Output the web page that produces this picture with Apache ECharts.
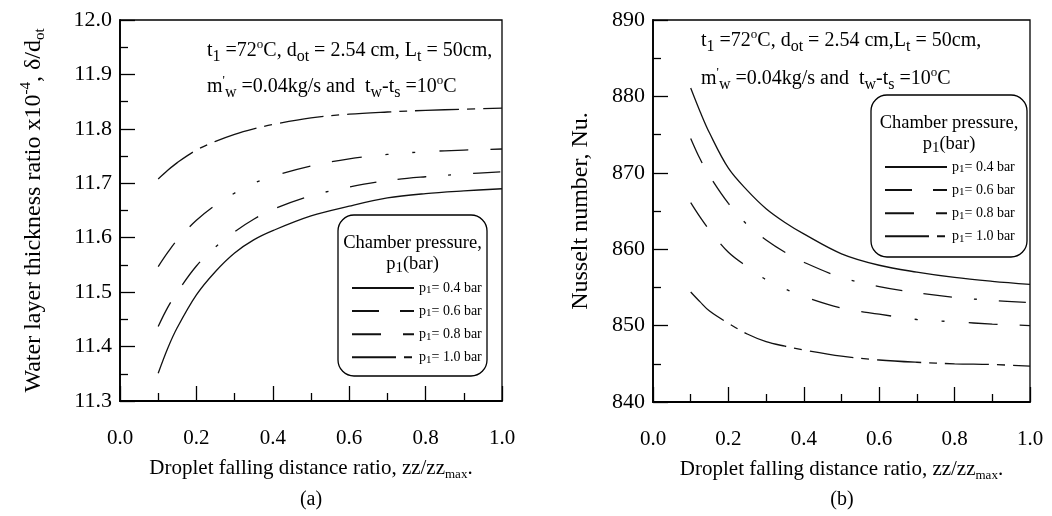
<!DOCTYPE html>
<html>
<head>
<meta charset="utf-8">
<script src="https://cdn.jsdelivr.net/npm/echarts@6/dist/echarts.min.js"></script>
<style>html,body{margin:0;padding:0;background:#fff}#c{width:1052px;height:516px}</style>
</head>
<body>
<div id="c"></div>
<script>
// ---- data ----
const zRatio = [0.1, 0.125, 0.15, 0.2, 0.25, 0.3, 0.35, 0.4, 0.5, 0.6, 0.7, 0.8, 0.9, 1.0];
const pressures = ['0.4', '0.6', '0.8', '1.0'];
// (a) water layer thickness ratio x1e-4
const delta04 = [11.351, 11.397, 11.435, 11.495, 11.538, 11.572, 11.596, 11.613, 11.640, 11.658, 11.673, 11.681, 11.686, 11.690];
const delta06 = [11.437, 11.472, 11.500, 11.548, 11.583, 11.611, 11.634, 11.652, 11.677, 11.693, 11.705, 11.712, 11.717, 11.721];
const delta08 = [11.547, 11.573, 11.596, 11.632, 11.660, 11.682, 11.700, 11.713, 11.732, 11.745, 11.753, 11.758, 11.761, 11.763];
const delta10 = [11.708, 11.724, 11.738, 11.761, 11.777, 11.790, 11.800, 11.808, 11.820, 11.827, 11.831, 11.834, 11.836, 11.838];
// (b) Nusselt number
const nu04 = [881.1, 878.0, 875.2, 870.6, 867.7, 865.3, 863.5, 862.0, 859.4, 857.9, 857.0, 856.3, 855.8, 855.4];
const nu06 = [874.5, 871.8, 869.6, 866.0, 863.2, 861.2, 859.6, 858.3, 856.3, 855.1, 854.3, 853.7, 853.3, 853.0];
const nu08 = [866.1, 864.2, 862.5, 859.6, 857.7, 856.0, 854.8, 853.8, 852.3, 851.5, 850.8, 850.5, 850.2, 850.0];
const nu10 = [854.4, 853.1, 851.9, 850.3, 848.9, 847.9, 847.3, 846.8, 846.0, 845.5, 845.2, 845.0, 844.9, 844.7];

const FF = '"Liberation Serif", "Times New Roman", serif';
const INK = '#111';
const dashes = ['solid', [27, 21, 29, 22, 3, 22], [29, 22, 30, 24, 3, 24, 3, 24], [44, 8, 8, 8]];
const deltaSets = [delta04, delta06, delta08, delta10];
const nuSets = [nu04, nu06, nu08, nu10];

function mkSeries(sets, gi) {
  return sets.map((arr, k) => ({
    name: pressures[k], type: 'line', xAxisIndex: gi, yAxisIndex: gi,
    data: zRatio.map((x, i) => [x, arr[i]]),
    symbol: 'none', smooth: 0.35, silent: true, z: 2,
    lineStyle: { color: INK, width: 1.3, type: dashes[k] },
    itemStyle: { color: INK }
  }));
}

const subRich = {
  n: { fontFamily: FF, fontSize: 20, color: '#000' },
  sb: { fontFamily: FF, fontSize: 16, color: '#000', padding: [12, 0, 0, 0] },
  sp: { fontFamily: FF, fontSize: 13, color: '#000', padding: [0, 0, 13, 0] }
};
const line1a = '{n|t}{sb|1}{n| =72}{sp|o}{n|C, d}{sb|ot}{n| = 2.54 cm, L}{sb|t}{n| = 50cm,}';
const line1b = '{n|t}{sb|1}{n| =72}{sp|o}{n|C, d}{sb|ot}{n| = 2.54 cm,L}{sb|t}{n| = 50cm,}';
const line2 = "{n|m}{sp|'}{sb|w}{n| =0.04kg/s and  t}{sb|w}{n|-t}{sb|s}{n| =10}{sp|o}{n|C}";

function xAx(gi) {
  return {
    type: 'value', gridIndex: gi, min: 0, max: 1, interval: 0.2,
    axisLine: { lineStyle: { color: '#000', width: 1.8 } },
    axisTick: { inside: true, length: 15, lineStyle: { color: '#000', width: 1.3 } },
    minorTick: { show: true, splitNumber: 2, length: 8, lineStyle: { color: '#000', width: 1.3 } },
    splitLine: { show: false },
    axisLabel: { margin: 27, fontFamily: FF, fontSize: 21, color: '#000', formatter: v => v.toFixed(1) },
    name: '{n|Droplet falling distance ratio, zz/zz}{m|max}{n|.}',
    nameLocation: 'middle', nameGap: 55,
    nameTextStyle: { rich: { n: { fontFamily: FF, fontSize: 21, color: '#000' }, m: { fontFamily: FF, fontSize: 13, color: '#000', padding: [12, 0, 0, 0] } } }
  };
}
function yAx(gi, min, max, interval, dec, name, gap) {
  return {
    type: 'value', gridIndex: gi, min, max, interval,
    axisLine: { lineStyle: { color: '#000', width: 1.8 } },
    axisTick: { inside: true, length: 15, lineStyle: { color: '#000', width: 1.3 } },
    minorTick: { show: true, splitNumber: 2, length: 8, lineStyle: { color: '#000', width: 1.3 } },
    splitLine: { show: false },
    axisLabel: { margin: 8, fontFamily: FF, fontSize: 22, color: '#000', formatter: v => v.toFixed(dec) },
    name, nameLocation: 'middle', nameGap: gap,
    nameTextStyle: { rich: { n: { fontFamily: FF, fontSize: 24, color: '#000' }, sp: { fontFamily: FF, fontSize: 15, color: '#000', padding: [0, 0, 14, 0] }, sb: { fontFamily: FF, fontSize: 15, color: '#000', padding: [14, 0, 0, 0] } } }
  };
}
function legend(left, top) {
  return {
    left, top, z: 10, orient: 'vertical', itemWidth: 62, itemHeight: 14, itemGap: 8.1, selectedMode: false,
    data: pressures,
    itemStyle: { opacity: 0, borderWidth: 0 },
    formatter: name => '{p|p}{s|1}{p|= ' + name + ' bar}',
    textStyle: { rich: { p: { fontFamily: FF, fontSize: 14, color: '#000' }, s: { fontFamily: FF, fontSize: 11, color: '#000', padding: [5, 0, 0, 0] } } }
  };
}
function legendBox(x, y, w, h) {
  return [
    { type: 'rect', shape: { x, y, width: w, height: h, r: 16 }, style: { fill: 'rgba(0,0,0,0)', stroke: '#000', lineWidth: 1.3 }, z: 3 },
    { type: 'text', z: 6, style: { x: x + w / 2, y: y + 28, text: 'Chamber pressure,', align: 'center', verticalAlign: 'middle', fontFamily: FF, fontSize: 18.5, fill: '#000' } },
    { type: 'text', z: 6, style: { x: x + w / 2, y: y + 49, text: '{n|p}{s|1}{n|(bar)}', align: 'center', verticalAlign: 'middle', rich: { n: { fontFamily: FF, fontSize: 18.5, color: '#000' }, s: { fontFamily: FF, fontSize: 15, color: '#000', padding: [9, 0, 0, 0] } } } }
  ];
}
function note(x, y1, y2, l1) {
  return [
    { type: 'text', z: 6, style: { x, y: y1, text: l1, rich: subRich, align: 'left', verticalAlign: 'middle' } },
    { type: 'text', z: 6, style: { x, y: y2, text: line2, rich: subRich, align: 'left', verticalAlign: 'middle' } }
  ];
}

const chart = echarts.init(document.getElementById('c'), null, { renderer: 'canvas' });
chart.setOption({
  animation: false,
  backgroundColor: '#fff',
  grid: [
    { left: 120, top: 20, width: 382, height: 381, show: true, borderColor: '#000', borderWidth: 1.3, backgroundColor: 'transparent' },
    { left: 653, top: 20, width: 377, height: 382, show: true, borderColor: '#000', borderWidth: 1.3, backgroundColor: 'transparent' }
  ],
  xAxis: [xAx(0), xAx(1)],
  yAxis: [
    yAx(0, 11.3, 12.0, 0.1, 1, '{n|Water layer thickness ratio x10}{sp|-4}{n|, δ/d}{sb|ot}', 72),
    yAx(1, 840, 890, 10, 0, '{n|Nusselt number, Nu.}', 60)
  ],
  legend: [legend(346, 276), legend(879, 155)],
  graphic: [
    ...legendBox(338, 215, 149, 161),
    ...legendBox(871, 95, 156, 162),
    ...note(207, 51, 87, line1a),
    ...note(701, 41, 79, line1b),
    { type: 'text', style: { x: 311, y: 500, text: '(a)', align: 'center', verticalAlign: 'middle', fontFamily: FF, fontSize: 20, fill: '#000' } },
    { type: 'text', style: { x: 842, y: 500, text: '(b)', align: 'center', verticalAlign: 'middle', fontFamily: FF, fontSize: 20, fill: '#000' } }
  ],
  series: [...mkSeries(deltaSets, 0), ...mkSeries(nuSets, 1)]
});
</script>
</body>
</html>
